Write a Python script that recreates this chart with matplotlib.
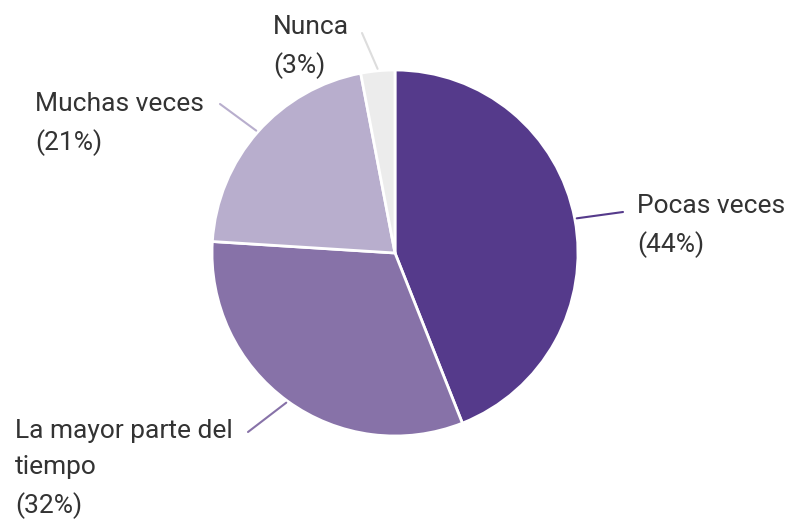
import matplotlib.pyplot as plt
import numpy as np

plt.rcParams['font.family'] = ['Roboto', 'DejaVu Sans']

labels = ['Pocas veces', 'La mayor parte del\ntiempo', 'Muchas veces', 'Nunca']
pcts = [44, 32, 21, 3]
colors = ['#553a8b', '#8772a8', '#b8aecd', '#ececec']

# label text anchor (left, top) in pixel coords and leader line outer end
text_pos = [(637, 194), (15, 419), (35, 92), (273, 15)]
line_end = [(623, 212), (248, 432), (220, 104), (362, 33)]

W, H = 790, 520
fig = plt.figure(figsize=(W / 100, H / 100), dpi=100)
ax = fig.add_axes([0, 0, 1, 1])

cx, cy, r = 395, H - 253, 183
ax.pie(pcts, colors=colors, startangle=90, counterclock=False,
       center=(cx, cy), radius=r,
       wedgeprops=dict(edgecolor='white', linewidth=2))
ax.set_xlim(0, W)
ax.set_ylim(0, H)
ax.set_aspect('equal')
ax.axis('off')

cum = np.cumsum([0] + pcts)
for i, lab in enumerate(labels):
    mid = (cum[i] + cum[i + 1]) / 2 / 100
    ang = np.deg2rad(90 - mid * 360)
    ex, ey = cx + (r + 2) * np.cos(ang), cy + (r + 2) * np.sin(ang)
    lx, ly = line_end[i]
    ax.plot([ex, lx], [ey, H - ly], color=colors[i] if i < 3 else '#dddddd',
            lw=1.5, solid_capstyle='round')
    tx, ty = text_pos[i]
    ax.text(tx, H - ty, f'{lab}\n({pcts[i]}%)', ha='left', va='top',
            fontsize=19, color='#333333', linespacing=1.64)

fig.savefig('out.png', dpi=100, facecolor='white')
